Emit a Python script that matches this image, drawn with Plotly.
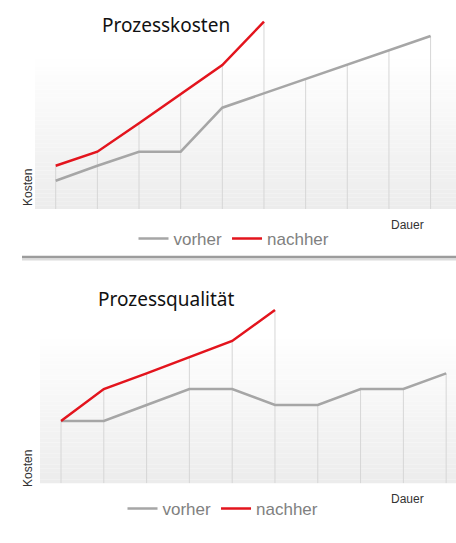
import plotly.graph_objects as go

W, H = 456, 543

# ---- data ----
steps = list(range(10))
kosten_vorher = [28.3, 43.3, 57.3, 57.3, 101.3, 115.7, 130.0, 144.3, 158.7, 173.0]
kosten_nachher = [43.3, 57.3, 85.7, 114.7, 144.0, 187.3]
qual_vorher = [62.3, 62.3, 78.3, 94.3, 94.3, 78.3, 78.3, 94.3, 94.3, 110.0]
qual_nachher = [62.3, 94.3, 110.0, 126.0, 142.3, 173.3]

series_names = ["vorher", "nachher"]
titles = ["Prozesskosten", "Prozessqualität"]
x_label = "Dauer"
y_label = "Kosten"

GRAY = "#a6a6a6"
RED = "#e3141d"
GRID = "#d6d6d6"

def py(p):
    return 1 - p / H

def px(p):
    return p / W

fig = go.Figure()

def droplines(xs, a, b):
    gx, gy = [], []
    for i in xs:
        top = max(v for v in [a[i] if i < len(a) else None, b[i] if i < len(b) else None] if v is not None)
        gx += [i, i, None]
        gy += [0, top, None]
    return gx, gy

# top chart
gx, gy = droplines(steps, kosten_vorher, kosten_nachher)
fig.add_trace(go.Scatter(x=gx, y=gy, mode="lines", line=dict(color=GRID, width=1),
                         showlegend=False, hoverinfo="skip", xaxis="x", yaxis="y"))
fig.add_trace(go.Scatter(x=steps, y=kosten_vorher, mode="lines", name=series_names[0],
                         line=dict(color=GRAY, width=2.5), xaxis="x", yaxis="y", legend="legend"))
fig.add_trace(go.Scatter(x=steps[:len(kosten_nachher)], y=kosten_nachher, mode="lines", name=series_names[1],
                         line=dict(color=RED, width=2.5), xaxis="x", yaxis="y", legend="legend"))

# bottom chart
gx2, gy2 = droplines(steps, qual_vorher, qual_nachher)
fig.add_trace(go.Scatter(x=gx2, y=gy2, mode="lines", line=dict(color=GRID, width=1),
                         showlegend=False, hoverinfo="skip", xaxis="x2", yaxis="y2"))
fig.add_trace(go.Scatter(x=steps, y=qual_vorher, mode="lines", name=series_names[0],
                         line=dict(color=GRAY, width=2.5), xaxis="x2", yaxis="y2", legend="legend2"))
fig.add_trace(go.Scatter(x=steps[:len(qual_nachher)], y=qual_nachher, mode="lines", name=series_names[1],
                         line=dict(color=RED, width=2.5), xaxis="x2", yaxis="y2", legend="legend2"))

# gradient backgrounds (decorative)
shapes = []
def gradient(x0, x1, ytop, ybot, n=40):
    for k in range(n):
        t0 = ytop + (ybot - ytop) * k / n
        t1 = ytop + (ybot - ytop) * (k + 1) / n
        f = (k + 0.5) / n
        c = int(round(255 - 19 * f))
        shapes.append(dict(type="rect", xref="paper", yref="paper",
                           x0=px(x0), x1=px(x1), y0=py(t1), y1=py(t0),
                           fillcolor=f"rgb({c},{c},{c})", line=dict(width=0), layer="below"))
gradient(35, 456, 55, 209)
gradient(40, 456, 335, 483.3)

# separator
shapes.append(dict(type="line", xref="paper", yref="paper", x0=px(22), x1=1,
                   y0=py(259.5), y1=py(259.5), line=dict(color="#dcdcdc", width=2)))
shapes.append(dict(type="line", xref="paper", yref="paper", x0=px(22), x1=1,
                   y0=py(257), y1=py(257), line=dict(color="#9c9c9c", width=2.5)))

annotations = [
    dict(text=titles[0], x=px(166), y=py(25), xref="paper", yref="paper", showarrow=False,
         font=dict(family="Noto Sans", size=19, color="#111111"), xanchor="center", yanchor="middle"),
    dict(text=titles[1], x=px(166), y=py(299), xref="paper", yref="paper", showarrow=False,
         font=dict(family="Noto Sans", size=19, color="#111111"), xanchor="center", yanchor="middle"),
    dict(text=x_label, x=px(407), y=py(225), xref="paper", yref="paper", showarrow=False,
         font=dict(family="Liberation Sans", size=12, color="#333333"), xanchor="center", yanchor="middle"),
    dict(text=x_label, x=px(407), y=py(499), xref="paper", yref="paper", showarrow=False,
         font=dict(family="Liberation Sans", size=12, color="#333333"), xanchor="center", yanchor="middle"),
    dict(text=y_label, x=px(28), y=py(188), xref="paper", yref="paper", showarrow=False, textangle=-90,
         font=dict(family="Liberation Sans", size=12, color="#333333"), xanchor="center", yanchor="middle"),
    dict(text=y_label, x=px(28), y=py(469), xref="paper", yref="paper", showarrow=False, textangle=-90,
         font=dict(family="Liberation Sans", size=12, color="#333333"), xanchor="center", yanchor="middle"),
]

ax_common = dict(showgrid=False, zeroline=False, showticklabels=False, showline=False, ticks="", fixedrange=True)

fig.update_layout(
    width=W, height=H, margin=dict(l=0, r=0, t=0, b=0),
    paper_bgcolor="white", plot_bgcolor="rgba(0,0,0,0)",
    xaxis=dict(domain=[px(35), 1], range=[-0.497, 9.61], **ax_common),
    yaxis=dict(domain=[py(209), py(10)], range=[0, 199], **ax_common),
    xaxis2=dict(domain=[px(40), 1], range=[-0.491, 9.23], anchor="y2", **ax_common),
    yaxis2=dict(domain=[py(483.3), py(300)], range=[0, 183.3], anchor="x2", **ax_common),
    legend=dict(orientation="h", x=px(234), y=py(239), xanchor="center", yanchor="middle",
                font=dict(family="Liberation Sans", size=17, color="#808080"),
                bgcolor="rgba(0,0,0,0)", itemwidth=30, tracegroupgap=0),
    legend2=dict(orientation="h", x=px(223), y=py(509), xanchor="center", yanchor="middle",
                 font=dict(family="Liberation Sans", size=17, color="#808080"),
                 bgcolor="rgba(0,0,0,0)", itemwidth=30, tracegroupgap=0),
    shapes=shapes, annotations=annotations, showlegend=True,
)

fig.write_html("out.html")
